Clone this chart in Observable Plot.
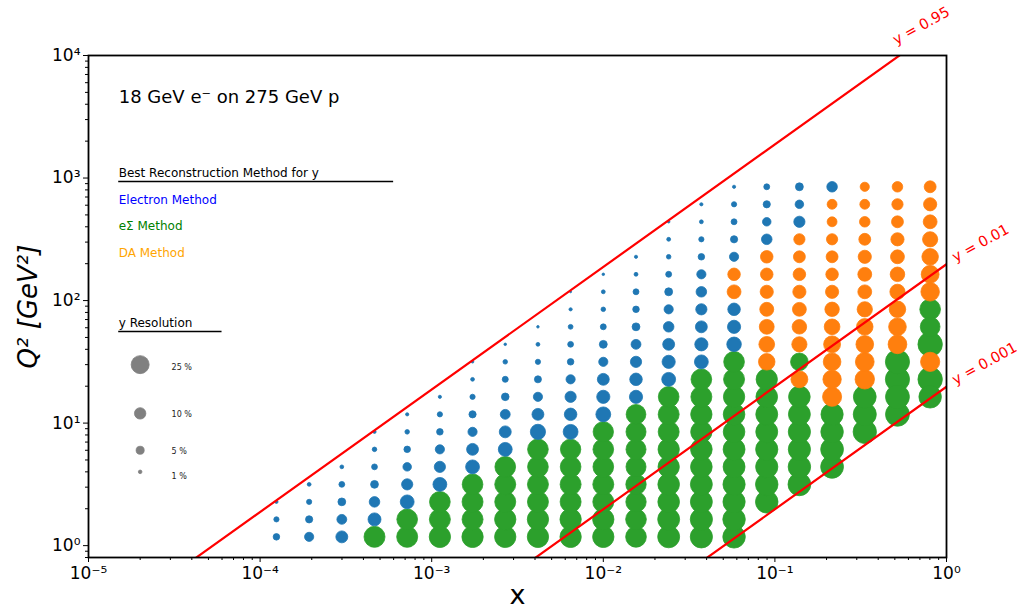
<!DOCTYPE html>
<html>
<head>
<meta charset="utf-8">
<script src="https://cdn.jsdelivr.net/npm/d3@7"></script>
<script src="https://cdn.jsdelivr.net/npm/@observablehq/plot@0.6"></script>
<style>
  html, body { margin: 0; padding: 0; background: #ffffff; }
  #chart svg { font-family: "DejaVu Sans", sans-serif; background: #ffffff; }
</style>
</head>
<body>
<div id="chart"></div>
<script>
// ---- data ----
// x bin centres (Bjorken x)
const xBins = [1.245e-4, 1.931e-4, 2.994e-4, 4.642e-4, 7.197e-4, 1.116e-3, 1.730e-3,
  2.683e-3, 4.160e-3, 6.449e-3, 1.0e-2, 1.551e-2, 2.404e-2, 3.728e-2, 5.781e-2,
  8.964e-2, 0.1389, 0.2154, 0.3340, 0.5179, 0.8030];
// Q^2 bin centres (GeV^2)
const q2Bins = [1.179, 1.638, 2.276, 3.162, 4.394, 6.105, 8.483, 11.79, 16.38, 22.76,
  31.62, 43.94, 61.05, 84.83, 117.9, 163.8, 227.6, 316.2, 439.4, 610.5, 848.3];
// first filled Q^2 row in each x column
const firstRow = [0, 0, 0, 0, 0, 0, 0, 0, 0, 0, 0, 0, 0, 0, 0, 2, 3, 4, 6, 7, 8];
// best method per cell, bottom to top: E = electron, S = eSigma, D = double angle
const methodCodes = [
  "EEE",
  "EEEE",
  "EEEEE",
  "SEEEEEE",
  "SSEEEEEE",
  "SSSEEEEEE",
  "SSSSEEEEEEE",
  "SSSSSEEEEEEE",
  "SSSSSSEEEEEEE",
  "SSSSSSEEEEEEEEE",
  "SSSSSSSEEEEEEEEE",
  "SSSSSSSSEEEEEEEEE",
  "SSSSSSSSSEEEEEEEEEE",
  "SSSSSSSSSSEEEEEEEEEE",
  "SSSSSSSSSSSEEEDDEEEEE",
  "SSSSSSSSDDDDDDDEEEE",
  "SSSSSSDSDDDDDDDEEE",
  "SSSSDDDDDDDDDDDDE",
  "SSSDDDDDDDDDDDD",
  "SSSSDDDDDDDDDD",
  "SSDSSSDDDDDDD"
];
// y resolution (%) per cell, bottom to top
const resolution = [
  [3.3, 2.1, 0.8],
  [6.5, 4.0, 2.1, 1.1],
  [11, 7.5, 4.7, 2.6, 1.1],
  [34, 13, 8.6, 4.7, 2.6, 1.6, 0.8],
  [34, 33, 14.8, 9.7, 5.6, 3.3, 1.6, 0.8],
  [35, 34, 33, 14.8, 9.7, 6.5, 3.3, 2.1, 0.8],
  [35, 34, 34, 33, 14.8, 10.9, 6.5, 4.0, 2.1, 1.1, 0.5],
  [35, 35, 34, 34, 33, 14.8, 11, 7.5, 4.5, 2.8, 1.6, 0.5],
  [35, 35, 34, 34, 33, 33, 17.8, 10.9, 6.5, 3.8, 2.1, 1.15, 0.5],
  [35, 35, 34, 34, 33, 32, 17, 12.1, 9.7, 6.5, 3.3, 2.6, 1.8, 0.8, 0.3],
  [35, 35, 34, 34, 33, 33, 32, 17, 13.4, 10.9, 6.5, 4.8, 2.7, 1.6, 1.15, 0.5],
  [33, 33, 32, 32, 31, 31, 31, 30, 13.4, 12.1, 9.7, 7.5, 4.8, 3.3, 2.7, 1.15, 0.8],
  [37, 37, 36, 36, 35, 35, 34, 34, 33, 14.8, 13.4, 10.9, 8.6, 6.5, 4.8, 2.7, 1.6, 1.15, 0.5],
  [38, 38, 37, 37, 36, 36, 35, 35, 34, 33, 14.8, 13.4, 10.9, 9.7, 8.6, 6.5, 3.3, 2.1, 1.15, 0.8],
  [39, 39, 38, 38, 37, 37, 36, 36, 35, 34, 33, 16.3, 13.4, 12.1, 14.8, 12.1, 6.5, 4.0, 2.7, 2.1, 0.8],
  [39, 39, 38, 38, 37, 37, 36, 35, 21, 19, 17, 15, 13.4, 12.1, 12.1, 8.6, 5.6, 4.0, 2.7],
  [40, 39, 38, 38, 37, 36, 22, 24, 17.8, 16.3, 14.8, 13.4, 12.1, 10.9, 9.7, 9.7, 5.6, 4.8],
  [40, 40, 39, 38, 28, 26, 24, 22, 19, 16, 13.4, 12.1, 10.9, 9.7, 7.5, 7.5, 8.6],
  [42, 41, 40, 29, 27, 24, 21, 18, 14.8, 14.8, 13.4, 10.9, 8.6, 7.5, 6.5],
  [44, 44, 45, 45, 27, 24, 21, 17.8, 16.3, 14.8, 13.4, 10.9, 9.7, 8.6],
  [39, 46, 28.4, 46, 30, 33, 26.5, 24.6, 21, 17.8, 14.8, 13.4, 10.9]
];
const methodKeys = ["E", "S", "D"];
const methodNames = ["Electron Method", "eΣ Method", "DA Method"];
const methodColors = ["#1f77b4", "#2ca02c", "#ff7f0e"];
const legendTextColors = ["blue", "green", "orange"];

// inelasticity lines
const yLines = [0.95, 0.01, 0.001];
const yLineLabels = ["y = 0.95", "y = 0.01", "y = 0.001"];
const electronEnergy = 18, protonEnergy = 275;
const sBeam = 4 * electronEnergy * protonEnergy;

// size legend
const legendRes = [25, 10, 5, 1];
const legendResLabels = ["25 %", "10 %", "5 %", "1 %"];

// ticks
const xTicks = [1e-5, 1e-4, 1e-3, 1e-2, 1e-1, 1];
const xTickLabels = ["10⁻⁵", "10⁻⁴", "10⁻³", "10⁻²", "10⁻¹", "10⁰"];
const yTicks = [1, 10, 100, 1000, 10000];
const yTickLabels = ["10⁰", "10¹", "10²", "10³", "10⁴"];

// ---- layout (annotation anchors in data coordinates) ----
const layout = {
  legendX: 1.5e-5,
  titleQ2: 4540,
  methodHeaderQ2: 1090,
  methodQ2: [655, 402, 246],
  headerRuleQ2: 936, headerRuleX2: 6.0e-4,
  resHeaderQ2: 65, resRuleQ2: 56, resRuleX2: 6.0e-5,
  resDotX: 2.0e-5, resTextX: 3.05e-5,
  resDotQ2: [30, 12, 6, 4],
  resTextQ2: [28.4, 11.7, 5.85, 3.66],
  lineLabelX: [0.51, 1.13, 1.13],
  lineLabelQ2: [12200, 205, 20.5]
};

// ---- build tables ----
const cells = [];
xBins.forEach((x, i) => {
  const codes = methodCodes[i];
  for (let k = 0; k < codes.length; k++) {
    cells.push({x, q2: q2Bins[firstRow[i] + k], method: codes[k], res: resolution[i][k]});
  }
});
const xEnds = [xTicks[0], xTicks[xTicks.length - 1]];
const lineData = yLines.flatMap((y) => xEnds.map((x) => ({y, x, q2: y * sBeam * x})));
const lineLabels = yLines.map((y, i) => ({label: yLineLabels[i], x: layout.lineLabelX[i], q2: layout.lineLabelQ2[i]}));
const methodLegend = methodNames.map((name, i) => ({name, color: legendTextColors[i], q2: layout.methodQ2[i]}));
const resLegend = legendRes.map((r, i) => ({r, label: legendResLabels[i], q2: layout.resDotQ2[i], tq2: layout.resTextQ2[i]}));

const xMinor = [];
for (let e = -5; e < 0; e++) for (let m = 2; m <= 9; m++) xMinor.push(m * Math.pow(10, e));
const yMinor = [0.8, 0.9];
for (let e = 0; e < 4; e++) for (let m = 2; m <= 9; m++) yMinor.push(m * Math.pow(10, e));
const xLabelMap = new Map(xTicks.map((t, i) => [t, xTickLabels[i]]));
const yLabelMap = new Map(yTicks.map((t, i) => [t, yTickLabels[i]]));

const font = "DejaVu Sans";

const chart = Plot.plot({
  width: 1022,
  height: 613,
  marginLeft: 88,
  marginRight: 76,
  marginTop: 55,
  marginBottom: 56,
  style: {fontFamily: font, background: "#ffffff", color: "black", overflow: "visible"},
  x: {type: "log", domain: [1e-5, 1], label: null},
  y: {type: "log", domain: [0.8, 1e4], label: null},
  r: {type: "sqrt", domain: [0, 25], range: [0, 9.0]},
  color: {domain: methodKeys, range: methodColors},
  marks: [
    Plot.dot(cells, {x: "x", y: "q2", r: "res", fill: "method", stroke: "method", strokeWidth: 0.8}),
    Plot.line(lineData, {x: "x", y: "q2", z: "y", stroke: "red", strokeWidth: 2.2, clip: true}),
    Plot.frame({stroke: "black", strokeWidth: 1.8}),
    Plot.axisX(xMinor, {tickSize: 3, tickFormat: () => ""}),
    Plot.axisX(xTicks, {tickSize: 5, tickPadding: 4, fontSize: 17, tickFormat: (d) => xLabelMap.get(d)}),
    Plot.axisY(yMinor, {tickSize: 3, tickFormat: () => ""}),
    Plot.axisY(yTicks, {tickSize: 5, tickPadding: 3, fontSize: 17, tickFormat: (d) => yLabelMap.get(d)}),
    // axis titles
    Plot.text(["x"], {frameAnchor: "bottom", dy: 46, fontSize: 27, text: (d) => d}),
    Plot.text(["Q² [GeV²]"], {frameAnchor: "left", textAnchor: "middle", dx: -60, rotate: -90, fontSize: 26, fontStyle: "italic", text: (d) => d}),
    // title inside plot
    Plot.text(["18 GeV e⁻ on 275 GeV p"], {x: layout.legendX, y: layout.titleQ2, textAnchor: "start", fontSize: 18, text: (d) => d}),
    // method legend
    Plot.text(["Best Reconstruction Method for y"], {x: layout.legendX, y: layout.methodHeaderQ2, textAnchor: "start", fontSize: 12, text: (d) => d}),
    Plot.ruleY([layout.headerRuleQ2], {x1: layout.legendX, x2: layout.headerRuleX2, stroke: "black", strokeWidth: 1.5}),
    Plot.text(methodLegend, {x: layout.legendX, y: "q2", text: "name", fill: "color", textAnchor: "start", fontSize: 12}),
    // resolution legend
    Plot.text(["y Resolution"], {x: layout.legendX, y: layout.resHeaderQ2, textAnchor: "start", fontSize: 12, text: (d) => d}),
    Plot.ruleY([layout.resRuleQ2], {x1: layout.legendX, x2: layout.resRuleX2, stroke: "black", strokeWidth: 1.5}),
    Plot.dot(resLegend, {x: layout.resDotX, y: "q2", r: "r", fill: "gray", stroke: "gray", strokeWidth: 0.8}),
    Plot.text(resLegend, {x: layout.resTextX, y: "tq2", text: "label", textAnchor: "start", fontSize: 8, fill: "#222"}),
    // y line labels
    Plot.text(lineLabels, {x: "x", y: "q2", text: "label", fill: "red", fontSize: 14.5, textAnchor: "start", lineAnchor: "bottom", rotate: -29})
  ]
});
document.getElementById("chart").appendChild(chart);
</script>
</body>
</html>
